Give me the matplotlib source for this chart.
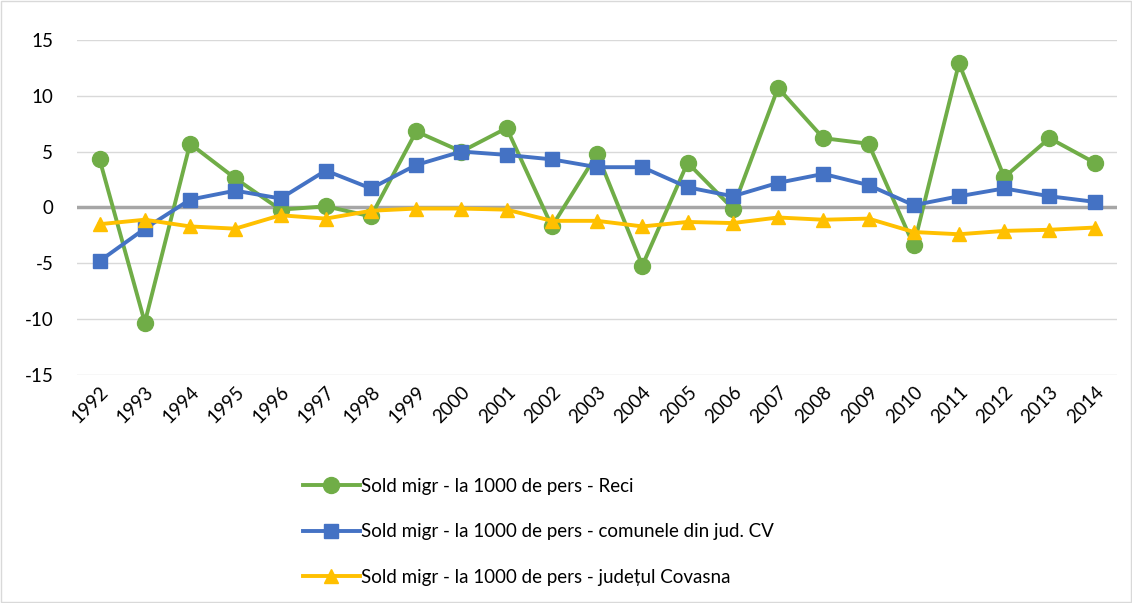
import matplotlib.pyplot as plt
from matplotlib.patches import Rectangle

plt.rcParams['font.family'] = ['Lato', 'DejaVu Sans']
plt.rcParams['axes.unicode_minus'] = False

years = [str(y) for y in range(1992, 2015)]
reci = [4.3, -10.3, 5.7, 2.6, -0.2, 0.1, -0.8, 6.8, 5.0, 7.1, -1.7, 4.8, -5.2,
        4.0, -0.1, 10.7, 6.2, 5.7, -3.4, 12.9, 2.7, 6.2, 4.0]
comune = [-4.8, -1.9, 0.7, 1.5, 0.8, 3.3, 1.7, 3.8, 5.0, 4.7, 4.3, 3.6, 3.6,
          1.8, 1.0, 2.2, 3.0, 2.0, 0.2, 1.0, 1.7, 1.0, 0.5]
judet = [-1.5, -1.1, -1.7, -1.9, -0.7, -1.0, -0.3, -0.1, -0.1, -0.2, -1.2, -1.2, -1.7,
         -1.3, -1.4, -0.9, -1.1, -1.0, -2.2, -2.4, -2.1, -2.0, -1.8]
labels = ['Sold migr - la 1000 de pers - Reci',
          'Sold migr - la 1000 de pers - comunele din jud. CV',
          'Sold migr - la 1000 de pers - județul Covasna']

fig = plt.figure(figsize=(11.32, 6.03), dpi=100)
ax = fig.add_axes([0.068, 0.378, 0.919, 0.556])

x = range(len(years))
ax.plot(x, reci, color='#70AD47', lw=2.8, marker='o', ms=11.5, label=labels[0], zorder=3)
ax.plot(x, comune, color='#4472C4', lw=2.8, marker='s', ms=10.5, label=labels[1], zorder=4)
ax.plot(x, judet, color='#FFC000', lw=2.8, marker='^', ms=10.5, label=labels[2], zorder=5)

ax.set_xlim(-0.5, len(years) - 0.5)
ax.set_ylim(-15, 15)
ax.set_yticks(range(-15, 16, 5))
ax.set_xticks(list(x))
ax.set_xticklabels(years, rotation=45, ha='right', rotation_mode='anchor')
ax.grid(axis='y', color='#D9D9D9', lw=1)
ax.axhline(0, color='#A6A6A6', lw=2.5, zorder=2)
ax.set_axisbelow(True)
for s in ax.spines.values():
    s.set_visible(False)
ax.tick_params(length=0, labelsize=13.5, colors='#000000')
ax.tick_params(axis='y', pad=17)
ax.tick_params(axis='x', pad=6)

fig.legend(loc='upper left', bbox_to_anchor=(0.253, 0.236), frameon=False,
           fontsize=13.5, handlelength=3.0, handletextpad=0.1, labelspacing=1.52)

fig.patches.append(Rectangle((0.001, 0.001), 0.998, 0.997, transform=fig.transFigure,
                             fill=False, edgecolor='#D9D9D9', lw=1))

fig.savefig('out.png', dpi=100)
